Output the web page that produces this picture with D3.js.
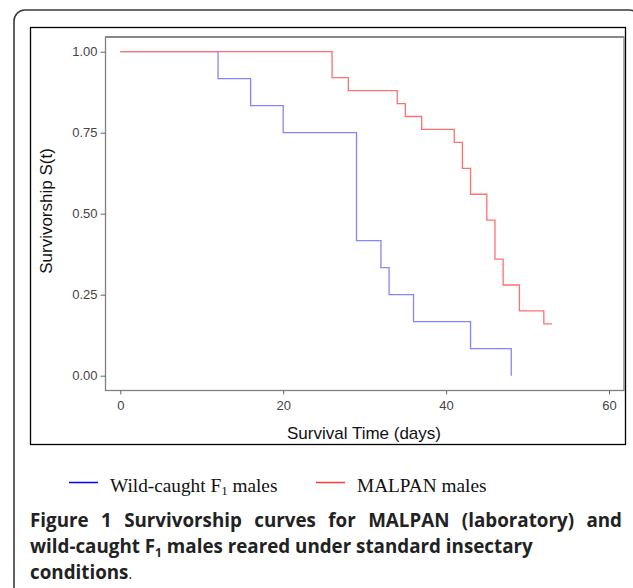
<!DOCTYPE html>
<html lang="en">
<head>
<meta charset="UTF-8">
<title>Survivorship curves</title>
<script src="https://d3js.org/d3.v7.min.js"></script>
<style>
    body { margin: 0; background: #fff; }
    svg { display: block; }
</style>
</head>
<body>
<svg id="chart" width="633" height="588"></svg>
<script>
    // Kaplan-Meier steps
    const wildDays  = [0, 12, 16, 20, 29, 32, 33, 36, 43, 48];
    const wildSurv  = [1.00, 0.9167, 0.8333, 0.75, 0.4167, 0.3333, 0.25, 0.1667, 0.0833, 0.00];
    const malpanDays = [0, 26, 28, 34, 35, 37, 41, 42, 43, 45, 46, 47, 49, 52, 53];
    const malpanSurv = [1.00, 0.92, 0.88, 0.84, 0.80, 0.76, 0.72, 0.64, 0.56, 0.48, 0.36, 0.28, 0.20, 0.16, 0.16];

    const xTicks = [0, 20, 40, 60];
    const yTicks = [0, 0.25, 0.5, 0.75, 1];

    const svg = d3.select('#chart');

    // outer rounded box and inner figure frame
    svg.append('rect')
        .attr('x', 14).attr('y', 10).attr('width', 626).attr('height', 600)
        .attr('rx', 11).attr('fill', 'none')
        .attr('stroke', '#3a3a3a').attr('stroke-width', 1.6);

    svg.append('rect')
        .attr('x', 30.5).attr('y', 27.5).attr('width', 595).attr('height', 417)
        .attr('fill', 'none').attr('stroke', '#000').attr('stroke-width', 1.3);

    const plot = { left: 105.5, top: 37, right: 624, bottom: 390.5 };

    const x = d3.scaleLinear().domain([0, 60]).range([120.3, 609]);
    const y = d3.scaleLinear().domain([0, 1]).range([375.7, 51.7]);

    // plot border
    svg.append('rect')
        .attr('x', plot.left).attr('y', plot.top)
        .attr('width', plot.right - plot.left).attr('height', plot.bottom - plot.top)
        .attr('fill', 'none').attr('stroke', '#808080').attr('stroke-width', 1.3);
    svg.append('line')
        .attr('x1', plot.left).attr('x2', plot.right)
        .attr('y1', plot.top).attr('y2', plot.top)
        .attr('stroke', '#888').attr('stroke-width', 2);

    const xAxis = svg.append('g')
        .attr('transform', `translate(0,${plot.bottom})`)
        .call(d3.axisBottom(x).tickValues(xTicks).tickSize(4).tickPadding(6).tickFormat(d3.format('d')));
    const yAxis = svg.append('g')
        .attr('transform', `translate(${plot.left},0)`)
        .call(d3.axisLeft(y).tickValues(yTicks).tickSize(5).tickPadding(3).tickFormat(d3.format('.2f')));

    [xAxis, yAxis].forEach(ax => {
        ax.select('.domain').remove();
        ax.selectAll('line').attr('stroke', '#666');
        ax.selectAll('text')
            .attr('fill', '#444')
            .style('font-family', '"Liberation Sans", Arial, sans-serif')
            .style('font-size', '13px');
    });

    // axis titles
    svg.append('text')
        .attr('x', 364).attr('y', 439)
        .attr('text-anchor', 'middle')
        .style('font-family', '"Liberation Sans", Arial, sans-serif')
        .style('font-size', '17px').attr('fill', '#111')
        .text('Survival Time (days)');
    svg.append('text')
        .attr('transform', 'translate(52,211) rotate(-90)')
        .attr('text-anchor', 'middle')
        .style('font-family', '"Liberation Sans", Arial, sans-serif')
        .style('font-size', '17px').attr('fill', '#111')
        .text('Survivorship S(t)');

    // step curves
    const step = d3.line()
        .x(d => x(d[0]))
        .y(d => y(d[1]))
        .curve(d3.curveStepAfter);

    svg.append('path')
        .datum(wildDays.map((d, i) => [d, wildSurv[i]]))
        .attr('fill', 'none')
        .attr('stroke', '#8585ff').attr('stroke-width', 1.3)
        .attr('d', step);

    svg.append('path')
        .datum(malpanDays.map((d, i) => [d, malpanSurv[i]]))
        .attr('fill', 'none')
        .attr('stroke', '#ff7070').attr('stroke-width', 1.3)
        .attr('d', step);

    // legend
    const legend = [
        { label: 'Wild-caught F', sub: '1', rest: ' males', color: '#0000ff', x: 69 },
        { label: 'MALPAN males', sub: null, rest: '', color: '#ff3b3b', x: 316 }
    ];
    legend.forEach(l => {
        svg.append('line')
            .attr('x1', l.x).attr('x2', l.x + 29)
            .attr('y1', 482.5).attr('y2', 482.5)
            .attr('stroke', l.color).attr('stroke-width', 1.5);
        const t = svg.append('text')
            .attr('x', l.x + 41).attr('y', 491.5)
            .style('font-family', '"Liberation Serif", "Times New Roman", serif')
            .style('font-size', '19.3px').attr('fill', '#111');
        t.append('tspan').text(l.label);
        if (l.sub) {
            t.append('tspan').attr('dy', 3).style('font-size', '13px').text(l.sub);
            t.append('tspan').attr('dy', -3).text(l.rest);
        }
    });

    // caption
    const capFont = '"Open Sans", "Noto Sans", sans-serif';
    const capSize = '18.8px';
    const cap1 = svg.append('text')
        .attr('x', 30).attr('y', 527)
        .style('font-family', capFont).style('font-size', capSize)
        .style('font-weight', 'bold').attr('fill', '#222')
        .text('Figure 1 Survivorship curves for MALPAN (laboratory) and');
    // justified first line: spread the gaps between words
    const w1 = cap1.node().getComputedTextLength();
    const gaps = 7;
    cap1.style('word-spacing', Math.max(0, (592 - w1) / gaps) + 'px');

    const cap2 = svg.append('text')
        .attr('x', 30).attr('y', 553)
        .style('font-family', capFont).style('font-size', capSize)
        .style('font-weight', 'bold').attr('fill', '#222');
    cap2.append('tspan').text('wild-caught F');
    cap2.append('tspan').attr('dy', 4).style('font-size', '12px').text('1');
    cap2.append('tspan').attr('dy', -4).text(' males reared under standard insectary');

    const cap3 = svg.append('text')
        .attr('x', 30).attr('y', 579)
        .style('font-family', capFont).style('font-size', capSize)
        .attr('fill', '#222');
    cap3.append('tspan').style('font-weight', 'bold').text('conditions');
    cap3.append('tspan').style('font-size', '14px').text('.');
</script>
</body>
</html>
